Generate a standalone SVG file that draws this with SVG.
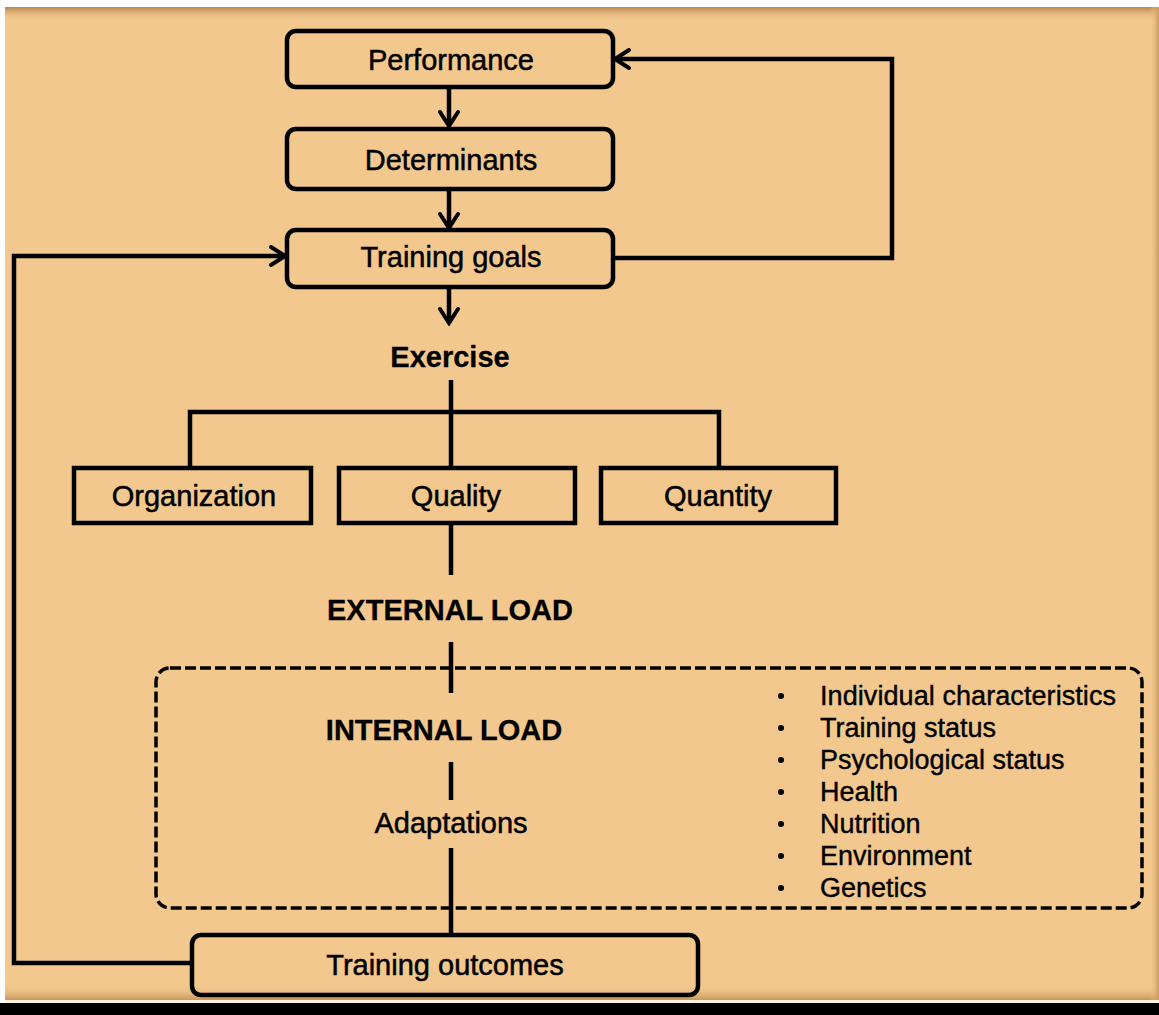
<svg xmlns="http://www.w3.org/2000/svg" width="1159" height="1015" viewBox="0 0 1159 1015">
  <defs>
    <linearGradient id="topShade" x1="0" y1="0" x2="0" y2="1">
      <stop offset="0" stop-color="#b8854c"/>
      <stop offset="1" stop-color="#f2c88e" stop-opacity="0"/>
    </linearGradient>
    <linearGradient id="bottomShade" x1="0" y1="0" x2="0" y2="1">
      <stop offset="0" stop-color="#f2c88e" stop-opacity="0"/>
      <stop offset="1" stop-color="#c9975c"/>
    </linearGradient>
    <linearGradient id="rightShade" x1="0" y1="0" x2="1" y2="0">
      <stop offset="0" stop-color="#f2c88e" stop-opacity="0"/>
      <stop offset="1" stop-color="#c9975c"/>
    </linearGradient>
    <marker id="arrow" viewBox="0 0 20 24" refX="17" refY="12" markerWidth="20" markerHeight="24" markerUnits="userSpaceOnUse" orient="auto">
      <path d="M3 3 L17 12 L3 21" fill="none" stroke="#000" stroke-width="4" stroke-linecap="round" stroke-linejoin="miter"/>
    </marker>
    <style>
      .box { fill: none; stroke: #000; stroke-width: 4.5; }
      .line { fill: none; stroke: #000; stroke-width: 4.5; }
      .dash { fill: none; stroke: #000; stroke-width: 3.5; stroke-dasharray: 11 4; }
      .lbl { font-family: "Liberation Sans", Arial, sans-serif; font-size: 29px; fill: #000; stroke: #000; stroke-width: 0.5; text-anchor: middle; }
      .bold { font-weight: bold; stroke-width: 0.3; }
      .item { font-family: "Liberation Sans", Arial, sans-serif; font-size: 27px; fill: #000; stroke: #000; stroke-width: 0.4; }
    </style>
  </defs>

  <!-- background -->
  <rect x="0" y="0" width="1159" height="1015" fill="#ffffff"/>
  <rect x="5" y="7" width="1154" height="996" fill="#f2c88e"/>
  <rect x="5" y="7" width="1154" height="14" fill="url(#topShade)"/>
  <rect x="5" y="984" width="1154" height="16" fill="url(#bottomShade)"/>
  <rect x="1150" y="7" width="9" height="996" fill="url(#rightShade)"/>
  <rect x="5" y="1000" width="1154" height="3" fill="#fff3dc"/>
  <rect x="0" y="1003" width="1159" height="12" fill="#000"/>

  <!-- connectors -->
  <g id="connectors">
    <line class="line" x1="449" y1="88" x2="449" y2="126" marker-end="url(#arrow)"/>
    <line class="line" x1="449" y1="190" x2="449" y2="228" marker-end="url(#arrow)"/>
    <line class="line" x1="449" y1="287" x2="449" y2="323" marker-end="url(#arrow)"/>
    <!-- feedback: training goals back to performance -->
    <polyline class="line" points="613,258 892,258 892,59 615,59" marker-end="url(#arrow)"/>
    <!-- feedback: training outcomes back to training goals -->
    <polyline class="line" points="192,963 14,963 14,256 285,256" marker-end="url(#arrow)"/>
    <!-- exercise to its three components -->
    <line class="line" x1="451" y1="380" x2="451" y2="412"/>
    <polyline class="line" points="190,468 190,412 719,412 719,468"/>
    <line class="line" x1="451" y1="412" x2="451" y2="468"/>
    <!-- load chain -->
    <line class="line" x1="451" y1="523" x2="451" y2="575"/>
    <line class="line" x1="451" y1="642" x2="451" y2="693"/>
    <line class="line" x1="451" y1="762" x2="451" y2="800"/>
    <line class="line" x1="451" y1="848" x2="451" y2="935"/>
  </g>

  <g id="performance">
    <rect class="box" x="287" y="31" width="326" height="56" rx="9"/>
    <text class="lbl" x="451" y="70">Performance</text>
  </g>
  <g id="determinants">
    <rect class="box" x="287" y="129" width="326" height="60" rx="9"/>
    <text class="lbl" x="451" y="170">Determinants</text>
  </g>
  <g id="training-goals">
    <rect class="box" x="287" y="230" width="326" height="57" rx="9"/>
    <text class="lbl" x="451" y="267">Training goals</text>
  </g>
  <g id="exercise">
    <text class="lbl bold" x="450" y="367">Exercise</text>
  </g>
  <g id="organization">
    <rect class="box" x="74" y="468" width="237" height="55"/>
    <text class="lbl" x="194" y="506">Organization</text>
  </g>
  <g id="quality">
    <rect class="box" x="339" y="468" width="236" height="55"/>
    <text class="lbl" x="456" y="506">Quality</text>
  </g>
  <g id="quantity">
    <rect class="box" x="601" y="468" width="235" height="55"/>
    <text class="lbl" x="718" y="506">Quantity</text>
  </g>
  <g id="external-load">
    <text class="lbl bold" x="450" y="620">EXTERNAL LOAD</text>
  </g>
  <g id="internal-load-panel">
    <rect class="dash" x="156" y="668" width="986" height="240" rx="14"/>
    <text class="lbl bold" x="444" y="740">INTERNAL LOAD</text>
    <text class="lbl" x="451" y="833">Adaptations</text>
    <g id="factors">
      <circle cx="781" cy="696" r="3"/>
      <circle cx="781" cy="728" r="3"/>
      <circle cx="781" cy="760" r="3"/>
      <circle cx="781" cy="792" r="3"/>
      <circle cx="781" cy="824" r="3"/>
      <circle cx="781" cy="856" r="3"/>
      <circle cx="781" cy="888" r="3"/>
      <text class="item" x="820" y="705" textLength="296" lengthAdjust="spacing">Individual  characteristics</text>
      <text class="item" x="820" y="737">Training status</text>
      <text class="item" x="820" y="769">Psychological status</text>
      <text class="item" x="820" y="801">Health</text>
      <text class="item" x="820" y="833">Nutrition</text>
      <text class="item" x="820" y="865">Environment</text>
      <text class="item" x="820" y="897">Genetics</text>
    </g>
  </g>
  <g id="training-outcomes">
    <rect class="box" x="192" y="935" width="506" height="60" rx="9"/>
    <text class="lbl" x="445" y="975">Training outcomes</text>
  </g>
</svg>
